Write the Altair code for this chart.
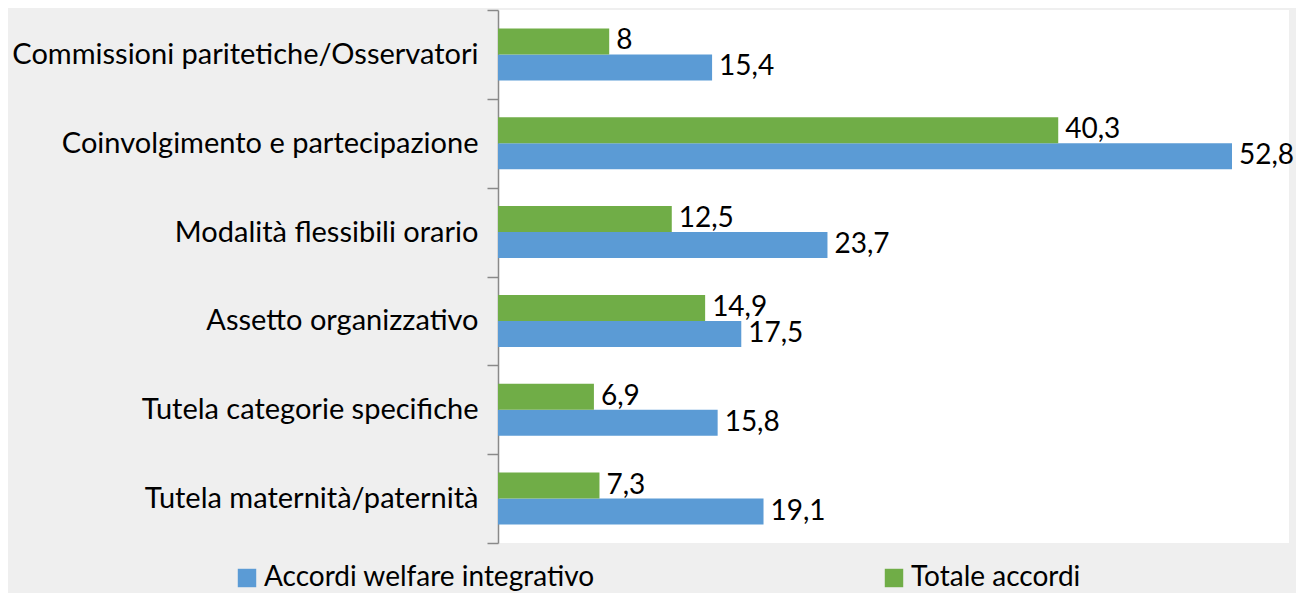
import altair as alt
import pandas as pd

categories = [
    "Commissioni paritetiche/Osservatori",
    "Coinvolgimento e partecipazione",
    "Modalità flessibili orario",
    "Assetto organizzativo",
    "Tutela categorie specifiche",
    "Tutela maternità/paternità",
]
welfare = [15.4, 52.8, 23.7, 17.5, 15.8, 19.1]
totale = [8.0, 40.3, 12.5, 14.9, 6.9, 7.3]
series = ["Accordi welfare integrativo", "Totale accordi"]
colors = ["#5b9bd5", "#70ad47"]

rows = []
for c, w, t in zip(categories, welfare, totale):
    rows.append({"cat": c, "serie": series[0], "val": w})
    rows.append({"cat": c, "serie": series[1], "val": t})
df = pd.DataFrame(rows)
df["lab"] = df["val"].map(lambda v: (f"{v:g}").replace(".", ","))

FONT = "Lato"
FS = 28

y = alt.Y("cat:N", sort=categories, title=None,
          scale=alt.Scale(paddingInner=0, paddingOuter=0),
          axis=alt.Axis(tickBand="extent", labelFont=FONT, labelFontSize=29,
                        labelColor="#000000", labelPadding=9, tickSize=11,
                        tickColor="#898989", domainColor="#898989",
                        domainWidth=1.5, tickWidth=1.5, labelLimit=490))
yoff = alt.YOffset("serie:N", sort=[series[1], series[0]],
                   scale=alt.Scale(paddingInner=0, paddingOuter=0.708))
x = alt.X("val:Q", axis=None, scale=alt.Scale(domain=[0, 56.9], nice=False, zero=True))

base = alt.Chart(df).encode(y=y, yOffset=yoff, x=x)

bars = base.mark_bar().encode(
    color=alt.Color("serie:N", scale=alt.Scale(domain=series, range=colors),
                    legend=alt.Legend(title=None, orient="none", direction="horizontal",
                                      legendX=-265, legendY=554,
                                      labelFont=FONT, labelFontSize=FS, labelColor="#000000",
                                      symbolType="square", symbolSize=340,
                                      symbolStrokeWidth=0, symbolOpacity=1,
                                      labelOffset=3, columnPadding=285,
                                      labelLimit=500))
)
texts = base.mark_text(align="left", baseline="middle", dx=7, font=FONT,
                       fontSize=FS, color="#000000").encode(text="lab:N")

chart = (bars + texts).properties(
    width=791, height=533, background="#efefef",
    autosize=alt.AutoSizeParams(type="none"),
    padding={"left": 490, "top": 2, "right": 7, "bottom": 50},
).configure_view(fill="#ffffff", stroke=None)

chart.save("out.html", embed_options={"renderer": "svg", "actions": False})
